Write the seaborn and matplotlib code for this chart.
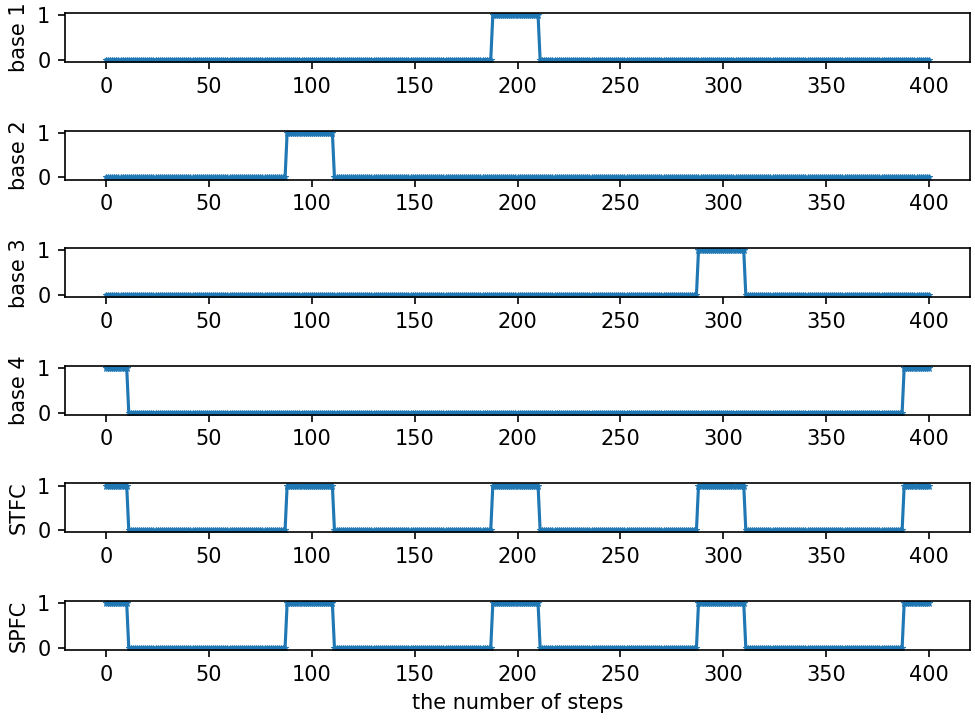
import numpy as np
import pandas as pd
import matplotlib
matplotlib.use("Agg")
import matplotlib.pyplot as plt
import seaborn as sns

# steps
n_steps = 401
# "on" intervals (inclusive) for each base
base1_on = [(188, 210)]
base2_on = [(88, 110)]
base3_on = [(288, 310)]
base4_on = [(0, 10), (388, 400)]
stfc_on = [(0, 10), (88, 110), (188, 210), (288, 310), (388, 400)]
spfc_on = [(0, 10), (88, 110), (188, 210), (288, 310), (388, 400)]

labels = ["base 1", "base 2", "base 3", "base 4", "STFC", "SPFC"]
intervals = [base1_on, base2_on, base3_on, base4_on, stfc_on, spfc_on]
x_ticks = [0, 50, 100, 150, 200, 250, 300, 350, 400]

steps = np.arange(n_steps)

def series(on_list):
    y = np.zeros(n_steps)
    for a, b in on_list:
        y[a:b + 1] = 1
    return y

fig, axes = plt.subplots(6, 1, figsize=(6.5, 4.82), dpi=150)
fig.subplots_adjust(left=65/975, right=970/975, top=1-13/723, bottom=1-650/723,
                    hspace=1.4)
for ax, lab, iv in zip(axes, labels, intervals):
    df = pd.DataFrame({"step": steps, "val": series(iv)})
    sns.lineplot(data=df, x="step", y="val", ax=ax, marker="*", markersize=3,
                 color="#1f77b4", linewidth=1.5, markeredgecolor="#1f77b4",
                 markeredgewidth=0.5)
    ax.set_ylabel(lab)
    ax.set_xlabel("")
    ax.set_xticks(x_ticks)
    ax.set_yticks([0, 1])
axes[-1].set_xlabel("the number of steps")
fig.savefig("out.png", dpi=150)
